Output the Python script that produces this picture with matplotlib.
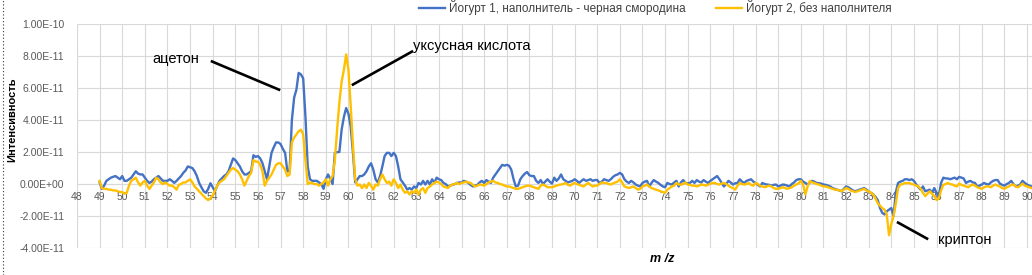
import numpy as np
import matplotlib
matplotlib.use("Agg")
import matplotlib.pyplot as plt
from matplotlib.lines import Line2D

plt.rcParams["font.family"] = ["Liberation Sans", "DejaVu Sans"]

# m/z sampled every 0.1 from 49.0 to 90.2; intensities in units of 1e-11
mz = np.round(np.arange(49.0, 90.25, 0.1), 1)
SCALE = 1e-11

yogurt1 = [  # blue: Йогурт 1, наполнитель - черная смородина
    0.1, -0.3, -0.1, 0.2, 0.3, 0.4, 0.45, 0.5, 0.4, 0.3,           # 49
    0.5, 0.2, 0.2, 0.3, 0.4, 0.6, 0.8, 0.65, 0.6, 0.6,             # 50
    0.4, 0.2, 0.07, 0.15, 0.3, 0.4, 0.5, 0.35, 0.2, 0.2,           # 51
    0.2, 0.3, 0.2, 0.07, 0.2, 0.35, 0.5, 0.7, 0.85, 1.1,           # 52
    1.05, 1.0, 0.8, 0.5, 0.07, -0.2, -0.45, -0.55, -0.3, 0.05,     # 53
    -0.2, -0.45, -0.1, 0.2, 0.35, 0.5, 0.6, 0.8, 1.2, 1.6,         # 54
    1.5, 1.3, 1.1, 0.8, 0.6, 0.6, 0.7, 0.8, 1.8, 1.7,              # 55
    1.75, 1.6, 1.3, 0.8, 0.3, 1.1, 1.95, 2.3, 2.6, 2.6,            # 56
    2.5, 2.2, 1.95, 0.8, 0.8, 4.0, 5.4, 5.9, 6.95, 6.85,           # 57
    6.6, 4.2, 1.1, 0.3, 0.2, 0.2, 0.2, 0.1, 0.0, -0.3,             # 58
    0.3, 0.6, 0.3, 0.0, 1.95, 2.0, 2.0, 3.4, 4.2, 4.75,            # 59
    4.4, 3.6, 1.95, 0.1, 0.3, 0.5, 0.5, 0.6, 0.8, 1.1,             # 60
    1.3, 0.9, 0.3, 0.1, 0.5, 1.1, 1.75, 1.95, 1.95, 1.75,          # 61
    1.95, 1.75, 1.1, 0.3, 0.1, -0.1, -0.35, -0.25, -0.35, -0.15,   # 62
    -0.25, 0.07, -0.03, 0.2, -0.03, 0.2, -0.03, 0.3, 0.07, 0.4,    # 63
    0.3, 0.25, 0.07, 0.0, -0.15, -0.1, -0.05, 0.0, 0.07, 0.1,      # 64
    0.1, 0.2, 0.15, 0.07, -0.05, -0.15, -0.1, -0.05, 0.1, 0.2,     # 65
    0.07, 0.25, 0.15, 0.07, 0.4, 0.6, 0.8, 1.0, 1.2, 1.15,         # 66
    1.2, 1.15, 0.9, 0.3, -0.15, -0.1, 0.3, 0.5, 0.65, 0.75,        # 67
    0.55, 0.5, 0.5, 0.2, 0.07, 0.25, 0.0, 0.15, 0.3, 0.15,         # 68
    0.03, 0.4, 0.2, 0.35, 0.6, 0.3, 0.2, 0.1, 0.15, 0.2,           # 69
    0.3, 0.2, 0.07, 0.2, 0.3, 0.2, 0.25, 0.3, 0.2, 0.25,           # 70
    0.25, 0.07, 0.15, 0.3, 0.25, 0.2, 0.3, 0.45, 0.55, 0.6,        # 71
    0.7, 0.6, 0.3, 0.15, 0.07, 0.2, 0.1, -0.03, -0.1, -0.15,       # 72
    0.07, 0.15, 0.2, -0.15, 0.07, 0.25, 0.15, 0.07, -0.05, -0.15,  # 73
    -0.2, 0.07, 0.0, -0.03, 0.1, 0.2, -0.15, 0.1, 0.25, 0.07,      # 74
    0.05, 0.07, 0.2, 0.07, 0.25, 0.15, 0.1, 0.25, 0.15, 0.07,      # 75
    0.2, 0.3, 0.4, 0.5, 0.3, 0.07, -0.15, 0.0, 0.2, 0.1,           # 76
    -0.03, 0.05, 0.07, 0.3, 0.15, 0.07, 0.2, 0.25, 0.3, 0.15,      # 77
    0.07, -0.05, -0.15, 0.07, 0.0, -0.03, -0.05, -0.1, -0.05, -0.03,  # 78
    -0.15, -0.1, -0.03, -0.05, -0.1, -0.15, 0.0, 0.1, 0.25, 0.3,   # 79
    0.3, 0.15, 0.07, -0.03, 0.1, 0.2, 0.15, 0.07, 0.05, 0.03,      # 80
    -0.03, -0.05, -0.1, -0.15, -0.25, -0.3, -0.35, -0.4, -0.45, -0.3,  # 81
    -0.15, -0.2, -0.3, -0.4, -0.45, -0.4, -0.35, -0.3, -0.25, -0.35,   # 82
    -0.45, -0.55, -0.65, -0.8, -1.0, -1.5, -1.8, -1.9, -1.7, -1.6,     # 83
    -1.5, -2.0, -0.5, 0.07, 0.15, 0.2, 0.3, 0.3, 0.25, 0.3,        # 84
    0.2, -0.03, -0.2, -0.35, -0.15, -0.45, -0.4, -0.35, -0.55, -0.25,  # 85
    -0.55, -0.75, 0.07, 0.4, 0.35, 0.35, 0.3, 0.35, 0.4, 0.3,      # 86
    0.45, 0.4, 0.35, 0.07, 0.15, 0.2, 0.1, 0.07, -0.15, -0.1,      # 87
    -0.03, 0.07, 0.0, -0.03, 0.1, 0.2, 0.25, 0.25, 0.03, -0.05,    # 88
    -0.1, 0.0, 0.07, 0.2, 0.0, -0.15, -0.1, -0.03, 0.2, 0.07,      # 89
    -0.03, -0.1, -0.15,                                            # 90
]

yogurt2 = [  # yellow: Йогурт 2, без наполнителя
    0.2, -0.25, -0.3, -0.3, -0.35, -0.35, -0.4, -0.4, -0.45, -0.5,     # 49
    -0.5, -0.6, -0.55, -0.1, 0.2, 0.3, 0.4, 0.1, -0.1, 0.1,            # 50
    0.2, -0.1, -0.3, -0.1, 0.1, 0.4, 0.3, 0.1, 0.0, 0.1,               # 51
    0.0, -0.1, -0.1, -0.2, -0.35, -0.05, 0.0, 0.1, 0.1, 0.2,           # 52
    0.3, 0.1, -0.15, -0.3, -0.45, -0.6, -0.75, -0.9, -1.0, -0.9,       # 53
    -0.7, -0.4, -0.1, 0.1, 0.2, 0.3, 0.5, 0.7, 0.9, 1.0,               # 54
    0.9, 0.8, 0.6, 0.3, -0.1, 0.2, 0.5, 0.7, 1.5, 1.4,                 # 55
    1.4, 1.2, 0.8, -0.1, 0.2, 0.4, 0.6, 0.9, 1.2, 1.3,                 # 56
    1.3, 1.1, 0.9, 0.5, 0.6, 2.6, 2.9, 3.1, 3.3, 3.4,                  # 57
    3.1, 1.5, 0.0, 0.1, 0.05, 0.0, 0.0, -0.1, 0.0, 0.1,                # 58
    0.3, -0.1, 0.3, 0.5, 1.5, 3.4, 5.1, 6.4, 7.15, 8.1,                # 59
    7.15, 4.9, 2.4, 0.3, -0.1, -0.03, -0.25, -0.03, -0.25, 0.07,       # 60
    -0.1, -0.35, -0.03, -0.1, 0.3, 0.6, 0.3, 0.07, 0.15, -0.1,         # 61
    0.3, 0.07, -0.25, -0.03, -0.35, -0.55, -0.45, -0.65, -0.45, -0.55, # 62
    -0.35, -0.65, -0.35, -0.25, -0.55, -0.25, -0.15, -0.03, 0.07, 0.15,  # 63
    0.1, 0.0, -0.15, -0.2, -0.25, -0.1, -0.03, 0.0, 0.07, 0.0,         # 64
    0.07, 0.1, 0.15, 0.1, 0.07, -0.05, -0.15, -0.1, -0.03, -0.05,      # 65
    -0.1, 0.0, 0.1, 0.15, 0.2, 0.1, 0.07, 0.0, -0.03, -0.1,            # 66
    -0.15, -0.15, -0.2, -0.25, -0.3, -0.3, -0.25, -0.2, -0.15, -0.1,   # 67
    -0.1, -0.15, -0.2, -0.25, -0.3, -0.1, -0.03, -0.1, -0.2, -0.2,     # 68
    -0.2, -0.15, -0.1, -0.05, -0.03, 0.0, 0.07, -0.05, -0.1, 0.0,      # 69
    0.07, 0.0, -0.05, -0.1, -0.15, -0.03, 0.07, -0.05, -0.15, -0.1,    # 70
    -0.1, 0.0, 0.1, 0.07, 0.07, 0.0, -0.03, 0.05, 0.1, 0.15,           # 71
    0.3, 0.1, -0.15, -0.2, -0.25, -0.2, -0.15, -0.25, -0.35, -0.3,     # 72
    -0.15, -0.1, -0.03, -0.15, -0.25, -0.3, -0.35, -0.4, -0.45, -0.5,  # 73
    -0.55, -0.35, -0.25, -0.15, -0.1, 0.07, -0.03, -0.03, 0.0, 0.1,    # 74
    -0.03, -0.05, -0.1, -0.1, -0.15, -0.1, -0.03, -0.05, -0.1, -0.05,  # 75
    0.03, 0.07, 0.07, 0.0, -0.03, 0.03, 0.07, 0.0, -0.1, -0.2,         # 76
    -0.25, -0.35, -0.1, 0.07, 0.0, -0.03, 0.0, 0.07, -0.05, -0.1,      # 77
    0.07, 0.0, -0.1, -0.15, -0.2, -0.15, -0.1, -0.15, -0.25, -0.3,     # 78
    -0.3, -0.25, -0.2, -0.25, -0.3, -0.25, -0.2, -0.1, -0.03, 0.05,    # 79
    0.2, -0.03, -0.65, -0.15, 0.2, 0.1, 0.07, 0.0, -0.03, -0.1,        # 80
    -0.15, -0.15, -0.2, -0.25, -0.3, -0.35, -0.35, -0.4, -0.45, -0.35, # 81
    -0.25, -0.3, -0.4, -0.45, -0.5, -0.45, -0.4, -0.35, -0.3, -0.4,    # 82
    -0.45, -0.55, -0.65, -0.9, -1.2, -1.35, -1.5, -1.6, -1.9, -3.2,    # 83
    -2.5, -2.0, -1.2, -0.25, -0.03, 0.0, 0.07, 0.05, 0.07, 0.0,        # 84
    -0.03, -0.1, -0.15, -0.3, -0.55, -0.75, -0.6, -0.45, -0.6, -0.75,  # 85
    -1.0, -0.9, -0.4, -0.05, 0.0, 0.07, 0.0, -0.03, -0.1, -0.15,       # 86
    0.03, -0.05, -0.1, -0.15, -0.2, -0.1, -0.03, -0.1, -0.2, -0.25,    # 87
    -0.3, -0.2, -0.15, -0.15, -0.2, -0.1, -0.03, -0.1, -0.15, -0.25,   # 88
    -0.3, -0.2, -0.15, -0.05, -0.03, -0.15, -0.2, -0.1, 0.03, -0.1,    # 89
    -0.15, -0.2, -0.25,                                                # 90
]

series_labels = ["Йогурт 1, наполнитель - черная смородина", "Йогурт 2, без наполнителя"]
series_colors = ["#4472C4", "#FFC000"]
y_ticks = [-4e-11, -2e-11, 0.0, 2e-11, 4e-11, 6e-11, 8e-11, 1e-10]
x_ticks = list(range(48, 91))

fig = plt.figure(figsize=(10.32, 2.75), dpi=100)
ax = fig.add_axes([0.0746, 0.098, 0.9254, 0.8145])

for vals, lab, col in zip([yogurt1, yogurt2], series_labels, series_colors):
    ax.plot(mz, np.array(vals) * SCALE, color=col, lw=1.7, label=lab, zorder=3,
            solid_joinstyle="round")

ax.set_xlim(48, 90.22)
ax.set_ylim(-4e-11, 1e-10)
ax.set_xticks(x_ticks)
ax.set_yticks(y_ticks)
ax.set_yticklabels([f"{v:.2E}" for v in y_ticks])
ax.grid(True, color="#d9d9d9", lw=0.8)
ax.set_axisbelow(True)
for s in ["top", "right", "left"]:
    ax.spines[s].set_visible(False)
ax.spines["bottom"].set_position(("data", 0))
ax.spines["bottom"].set_color("#d9d9d9")
ax.tick_params(length=0, labelsize=7.5, colors="#595959")
ax.tick_params(axis="y", pad=9)
ax.tick_params(axis="x", pad=6)

# callouts
ax.text(51.32, 7.8e-11, "ацетон", fontsize=10.5, va="center", ha="left")
ax.plot([53.97, 56.93], [7.66e-11, 5.9e-11], color="black", lw=1.9, zorder=4)
ax.text(62.85, 8.6e-11, "уксусная кислота", fontsize=10.5, va="center", ha="left")
ax.plot([62.81, 60.2], [8.28e-11, 6.22e-11], color="black", lw=1.9, zorder=4)
ax.text(86.06, -3.47e-11, "криптон", fontsize=10.5, va="center", ha="left")
ax.plot([84.30, 85.58], [-2.41e-11, -3.41e-11], color="black", lw=1.9, zorder=4)

fig.legend(loc="center", bbox_to_anchor=(0.635, 0.971), ncol=2, frameon=False,
           fontsize=8.5, handlelength=2.2, handletextpad=0.3, columnspacing=2.6,
           labelcolor="#404040")

fig.text(0.012, 0.5636, "Интенсивность", rotation=90, ha="center", va="center",
         fontsize=8, fontweight="bold")
fig.text(0.6415, 0.058, "m /z", ha="center", va="center", fontsize=9,
         fontweight="bold", style="italic")

# dotted border at the left edge of the original screenshot
fig.add_artist(Line2D([0.003, 0.003], [0, 1], transform=fig.transFigure,
                      color="#333333", lw=0.8, ls=(0, (1, 2))))

fig.savefig("out.png", dpi=100)
